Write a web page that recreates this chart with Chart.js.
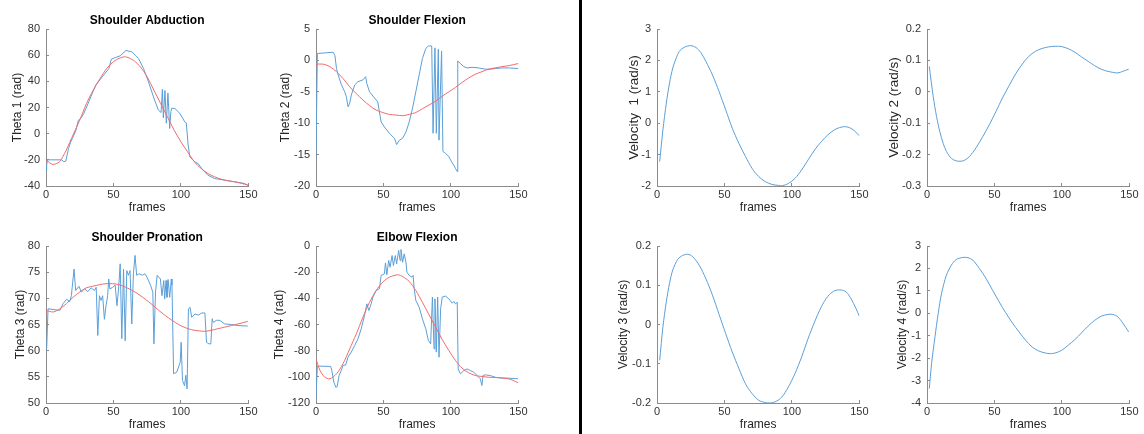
<!DOCTYPE html>
<html><head><meta charset="utf-8">
<script src="https://cdn.jsdelivr.net/npm/chart.js@4.4.1/dist/chart.umd.min.js"></script>
<style>
html,body{margin:0;padding:0;background:#fff;width:1144px;height:434px;overflow:hidden;position:relative;}
canvas{position:absolute;}
#divider{position:absolute;left:579px;top:0;width:3px;height:434px;background:#000;}
</style></head><body>
<div id="divider"></div>
<script>
// ---------- data (frame, value) ----------
const frameTicks = [0, 50, 100, 150];

const abductionTicks = [-40, -20, 0, 20, 40, 60, 80];
const abductionRaw = [[0,-28],[0.5,-24],[1,-20],[11.8,-20],[13,-21.5],[14.7,-21],[16.7,-11.3],[18.4,-6.2],[22,2],[24,10.3],[25.7,11.6],[28,15.4],[31.9,24.8],[36.8,37],[41.7,43.4],[46.6,49.8],[48.5,57],[51.5,58.2],[55,59.5],[59.3,63.6],[61.5,63],[63.7,62.5],[66.2,60],[68.6,57.5],[72.3,49.8],[76,39.6],[79.7,28],[83.3,18],[85.3,16.2],[86.3,34],[87,12],[88.2,33],[89.2,8],[90.4,31],[91.7,4],[92.6,17],[93.3,19.5],[95.6,19.2],[99.3,15.4],[102.9,9],[104,8.3],[105.4,-8.8],[106.6,-17.7],[110.3,-21.5],[112.7,-22.8],[116.4,-27.9],[120,-31.7],[125,-34.3],[132.4,-35.5],[139.7,-36.8],[147,-38],[149.5,-39.4],[150,-39]];
const abductionFit = [[0,-20],[5,-23.5],[10,-21.5],[12.5,-17.5],[15,-12.6],[20,-1.1],[25,10.3],[30,23],[35,33.2],[40,42],[45,49.8],[50,55],[55,58],[58,58.7],[60,58.5],[65,56],[70,51],[75,43.4],[80,33.2],[85,23],[90,12.9],[95,2.7],[100,-6.2],[105,-13.9],[110,-21.5],[115,-26.6],[120,-30.4],[125,-33],[130,-34.8],[135,-36],[140,-36.8],[145,-38],[150,-39.4]];

const flexionTicks = [-20, -15, -10, -5, 0, 5];
const flexionRaw = [[0,-15],[1,1.1],[12.7,1.3],[14,0.8],[15.2,-1.3],[16.4,-2.3],[18.9,-3.9],[21.3,-5],[22.5,-5.8],[23.8,-7.4],[25,-6.8],[26.2,-5.5],[28.7,-3.9],[31.1,-3.4],[34.8,-3.1],[36.8,-2.6],[37.7,-3.7],[39.7,-5],[43.4,-6],[45.8,-6.6],[47,-8.2],[48.3,-9.8],[50.7,-10.6],[54.4,-11.6],[58.1,-12.4],[59.8,-13.4],[61.8,-12.7],[64.2,-12.4],[66.7,-11.4],[69.1,-9.8],[71.6,-7.6],[74,-5],[76.5,-2.3],[78.9,0.3],[81.4,1.9],[83.3,2.3],[85.8,2.3],[86.8,-11.6],[88.2,2.0],[89.2,-11.6],[90.7,1.8],[91.2,-12.7],[93.1,1.5],[94.1,-14.5],[96,-14.8],[98.5,-15.3],[99.8,-15.9],[102.2,-16.7],[103.4,-17.2],[104.7,-17.7],[105.1,-0.1],[107.1,-0.5],[109.6,-1],[112,-1.2],[115.7,-1.1],[120.6,-1.2],[125.5,-1.4],[129.2,-1.4],[132.8,-1.3],[137.7,-1.2],[142.6,-1.2],[150,-1.3]];
const flexionFit = [[0,-0.6],[5.4,-0.6],[10.3,-1],[15.2,-1.8],[20.1,-2.9],[25,-4.2],[29.9,-5.3],[34.8,-6.3],[39.7,-7.2],[44.6,-7.9],[49.5,-8.3],[54.4,-8.6],[59.3,-8.7],[64.2,-8.8],[69.1,-8.6],[74,-8.3],[78.9,-7.7],[83.8,-7.1],[88.7,-6.5],[93.6,-5.7],[98.5,-5],[103.4,-4.3],[108.3,-3.5],[113.2,-2.8],[118.1,-2.2],[123,-1.8],[127.9,-1.4],[132.8,-1.2],[137.7,-1],[142.6,-0.85],[150,-0.5]];

const pronationTicks = [50, 55, 60, 65, 70, 75, 80];
const pronationRaw = [[0.5,60.4],[1.5,68],[10.3,67.7],[12.7,69],[15.2,69.8],[17.6,69.4],[18.8,70.5],[20.8,75.6],[22,71.5],[24.4,72.3],[26.2,71.2],[28.6,71.8],[31,71.3],[33.5,72],[35.9,71.5],[37.2,72.1],[38.4,62.9],[39.6,70.5],[40.8,69.6],[42,70.5],[43.3,66],[44.5,68.6],[45.7,70.5],[46.5,73.7],[47.4,71.8],[49.4,72.1],[51.3,72.5],[52.6,68.6],[53.8,71.8],[55,76.6],[56.2,62.3],[57.5,75.6],[58.7,61.9],[59.9,75.3],[61.1,74.4],[62.3,75.3],[63.6,65.1],[64.8,74.7],[66,78.2],[67.2,74.4],[69,74.7],[71.4,74.4],[73.3,74.7],[75,74],[77.5,72.5],[79.2,71.2],[80,61.3],[81.2,71.2],[82.4,74.4],[84.8,73.7],[86,70.5],[87.3,73.4],[88,69.9],[89,73.4],[89.7,70.2],[90.5,73.6],[91.7,70.2],[92.9,73.7],[93.4,72.5],[94.6,55.6],[97,55.9],[99.5,57.8],[100.2,61.6],[101.2,54.3],[102.7,53.3],[103.7,55.3],[104.6,52.7],[105.6,68],[106.8,68.3],[108,66.4],[110.5,67],[113,66.8],[115.4,67.2],[117.8,67.2],[119,61.6],[120.8,61.3],[122.2,61.3],[123.2,66.1],[124,65.4],[126.4,65.8],[128.8,65.8],[132.5,65.1],[137.4,65],[142.3,64.8],[149.6,64.7]];
const pronationFit = [[0,67.7],[5.4,67.4],[10.3,68],[15.2,69],[20,70.2],[25,71.2],[29.8,72],[34.7,72.3],[39.6,72.6],[44.5,72.8],[49.4,72.8],[54.3,72.6],[59.2,72.1],[64,71.5],[69,70.7],[73.8,69.8],[78.7,68.8],[83.6,67.7],[88.5,66.7],[93.4,65.8],[98.3,65],[103.2,64.4],[108,64],[113,63.8],[117.8,63.7],[122.7,63.9],[127.6,64.2],[132.5,64.5],[137.4,64.8],[142.3,65.1],[149.6,65.6]];

const elbowTicks = [-120, -100, -80, -60, -40, -20, 0];
const elbowRaw = [[0,-115.5],[1,-91.8],[9,-92],[10.8,-92],[11.5,-94],[13.2,-104],[14.7,-108],[15.7,-107.5],[17.1,-99],[18.8,-95],[20,-91.3],[22,-91],[23.7,-85],[26.2,-81],[28.7,-76],[31.1,-71],[33.6,-63],[36,-53],[37.7,-44.2],[39.2,-49.3],[40.9,-44.2],[42.2,-39],[43.4,-36.6],[44.6,-34],[47,-32.7],[48.3,-22.5],[50.7,-21.3],[51.5,-12.9],[52.5,-22],[53.9,-11],[54.9,-16.2],[56.4,-7.3],[57.4,-15],[58.8,-7.3],[59.8,-13.6],[61.3,-3.4],[62.3,-11],[63,-2.7],[64.2,-12.4],[65.4,-6],[66.7,-12.4],[67.4,-20],[69.1,-22.5],[71.1,-23.8],[72,-22.5],[72.8,-32.7],[74,-41.6],[76.5,-46.8],[78.9,-55.7],[81.4,-63.3],[83.3,-72.2],[85,-74.8],[86.3,-39],[87.5,-78.6],[88.2,-40.4],[89.2,-81.1],[90.2,-39],[91.2,-85],[92.4,-48],[93.6,-39],[96.1,-38.3],[98.5,-40.4],[101,-43.7],[102.2,-42.4],[103.4,-44.2],[104.7,-43],[105.4,-94],[107.1,-97.7],[109.6,-95.2],[112,-94],[114.5,-95.2],[116.9,-96.4],[119.4,-99],[121.8,-101.5],[123,-106.6],[123.8,-99],[125.5,-98.5],[129.2,-99],[132.8,-100.3],[137.7,-101],[142.6,-101],[150,-101.5]];
const elbowFit = [[0,-86.2],[2.9,-95],[6.6,-100.3],[10.3,-101.5],[15.2,-97.7],[20,-90],[25,-78.6],[29.9,-67.1],[34.8,-54.4],[39.7,-43],[44.6,-34],[49.5,-27.6],[54.4,-23.8],[59.3,-22.2],[61,-22],[64.2,-23.3],[69.1,-27.1],[74,-34],[78.9,-43],[83.8,-52.6],[88.7,-62],[93.6,-71.5],[98.5,-79.9],[103.4,-87.5],[108.3,-93.4],[113.2,-96.9],[118.1,-99],[123,-99.7],[127.9,-100.3],[132.8,-100.5],[137.7,-100.8],[142.6,-101.5],[146.3,-102.8],[150,-104.6]];

const vel1Ticks = [-2, -1, 0, 1, 2, 3];
const velocity1 = [[2,-1.22],[4.4,-0.21],[6.9,0.64],[9.3,1.28],[11.7,1.76],[14.2,2.07],[16.6,2.29],[20.3,2.42],[25,2.47],[28.9,2.41],[32.5,2.25],[36.2,1.97],[41.1,1.54],[46,1.01],[50.9,0.43],[55.8,-0.16],[60.7,-0.64],[65.6,-1.06],[70.5,-1.44],[75.4,-1.7],[80.3,-1.86],[85.2,-1.95],[90,-1.98],[93,-1.99],[97.4,-1.92],[102.3,-1.76],[107.2,-1.49],[112,-1.17],[116.9,-0.85],[121.8,-0.59],[126.7,-0.37],[131.6,-0.21],[135.3,-0.14],[139,-0.11],[142.7,-0.14],[146.3,-0.24],[150,-0.4]];

const vel2Ticks = [-0.3, -0.2, -0.1, 0, 0.1, 0.2];
const velocity2 = [[1.7,0.081],[4.6,-0.015],[7.1,-0.079],[9.5,-0.127],[12,-0.164],[14.4,-0.19],[18.1,-0.212],[21.7,-0.22],[25.4,-0.221],[27.9,-0.218],[31.5,-0.206],[36.4,-0.178],[41.3,-0.143],[46.2,-0.105],[51.1,-0.063],[55.9,-0.02],[60.8,0.019],[65.7,0.057],[70.6,0.088],[75.5,0.113],[80.4,0.129],[85.3,0.138],[90.2,0.143],[95,0.145],[99.9,0.144],[104.8,0.137],[109.7,0.126],[114.6,0.111],[119.5,0.097],[124.4,0.083],[129.2,0.072],[134.1,0.065],[137.8,0.062],[141.5,0.06],[145.1,0.065],[149.5,0.072]];

const vel3Ticks = [-0.2, -0.1, 0, 0.1, 0.2];
const velocity3 = [[2,-0.091],[4.4,-0.006],[6.9,0.058],[9.3,0.105],[11.7,0.139],[15.4,0.166],[19.1,0.176],[22.8,0.179],[26.4,0.173],[31.3,0.151],[36.2,0.117],[41.1,0.075],[46,0.026],[50.9,-0.023],[55.8,-0.07],[60.7,-0.112],[65.6,-0.151],[70.5,-0.176],[75.4,-0.193],[80.3,-0.199],[83.9,-0.2],[87.6,-0.197],[92.5,-0.185],[97.4,-0.159],[102.3,-0.125],[107.2,-0.083],[112,-0.036],[116.9,0.007],[121.8,0.045],[126.7,0.072],[131.6,0.086],[136.5,0.088],[140.2,0.083],[143.8,0.066],[147.5,0.041],[150,0.021]];

const vel4Ticks = [-4, -3, -2, -1, 0, 1, 2, 3];
const velocity4 = [[1.7,-3.36],[3.4,-2.24],[5.9,-1.05],[8.3,-0.01],[10.8,0.89],[14.4,1.7],[18.1,2.15],[21.7,2.4],[26.6,2.49],[30.3,2.48],[34,2.37],[38.8,2.0],[43.7,1.56],[48.6,1.03],[53.5,0.51],[58.4,0.02],[63.3,-0.43],[68.2,-0.83],[73.1,-1.2],[77.9,-1.5],[82.8,-1.68],[87.7,-1.77],[91.4,-1.8],[95,-1.77],[99.9,-1.65],[104.8,-1.42],[109.7,-1.17],[114.6,-0.87],[119.5,-0.57],[124.4,-0.31],[129.2,-0.13],[134.1,-0.05],[137.8,-0.05],[141.5,-0.16],[145.1,-0.43],[149.5,-0.83]];

// ---------- styling / layout ----------
const FONT = "'Liberation Sans', Arial, Helvetica, sans-serif";
const BLUE = '#5b9fd8';
const RED = '#f26b6b';
const AXIS = '#8c8c8c';

const panels = [
  {title:'Shoulder Abduction', ylabel:'Theta 1 (rad)', ticks:abductionTicks, series:[[abductionFit,RED,0.3],[abductionRaw,BLUE,0]], rect:[46,29,251,186], yOff:28.5, ySize:12},
  {title:'Shoulder Flexion', ylabel:'Theta 2 (rad)', ticks:flexionTicks, series:[[flexionFit,RED,0.3],[flexionRaw,BLUE,0]], rect:[316,29,521,186], yOff:30.5, ySize:12},
  {title:'Shoulder Pronation', ylabel:'Theta 3 (rad)', ticks:pronationTicks, series:[[pronationFit,RED,0.3],[pronationRaw,BLUE,0]], rect:[46,246,251,403], yOff:25.2, ySize:12},
  {title:'Elbow Flexion', ylabel:'Theta 4 (rad)', ticks:elbowTicks, series:[[elbowFit,RED,0.3],[elbowRaw,BLUE,0]], rect:[316,246,521,403], yOff:36.8, ySize:12},
  {title:null, ylabel:'Velocity  1 (rad/s)', ticks:vel1Ticks, series:[[velocity1,BLUE,0.3]], rect:[657,29,862,186], yOff:23, ySize:13.5},
  {title:null, ylabel:'Velocity 2 (rad/s)', ticks:vel2Ticks, series:[[velocity2,BLUE,0.3]], rect:[927,29,1132,186], yOff:33, ySize:13.5},
  {title:null, ylabel:'Velocity 3 (rad/s)', ticks:vel3Ticks, series:[[velocity3,BLUE,0.3]], rect:[657,246,862,403], yOff:33, ySize:12},
  {title:null, ylabel:'Velocity 4 (rad/s)', ticks:vel4Ticks, series:[[velocity4,BLUE,0.3]], rect:[927,246,1132,403], yOff:24, ySize:12},
];

const LEFT = 46, TOP = 29, BOTTOM = 30, RIGHT = 12;
const fmt = v => { const r = Math.round(v * 1000) / 1000; return r === 0 ? '0' : String(r); };

panels.forEach(p => {
  const [L, T, R, B] = p.rect;
  const cv = document.createElement('canvas');
  const w = (R - L) + LEFT + RIGHT, h = (B - T) + TOP + BOTTOM;
  cv.width = w; cv.height = h;
  cv.style.left = (L - LEFT) + 'px';
  cv.style.top = (T - TOP) + 'px';
  cv.style.width = w + 'px'; cv.style.height = h + 'px';
  document.body.appendChild(cv);
  const t = p.ticks;
  new Chart(cv, {
    type: 'line',
    data: {
      datasets: p.series.map(([pts, color, tension]) => ({
        data: pts.map(([x, y]) => ({x, y})),
        borderColor: color, borderWidth: 1, pointRadius: 0, tension: tension, fill: false
      }))
    },
    options: {
      responsive: false, animation: false, devicePixelRatio: 1,
      layout: { padding: { left: 0, right: RIGHT, top: p.title ? 0 : TOP, bottom: 0 } },
      plugins: {
        legend: { display: false }, tooltip: { enabled: false },
        title: p.title ? { display: true, fullSize: false, text: p.title, color: '#000',
          font: { family: FONT, size: 12, weight: 'bold' }, padding: { top: 13.8, bottom: 0.8 } } : { display: false }
      },
      scales: {
        x: {
          type: 'linear', min: frameTicks[0], max: frameTicks[frameTicks.length - 1],
          afterBuildTicks: s => { s.ticks = frameTicks.map(v => ({value: v})); },
          afterFit: s => { s.height = BOTTOM; },
          grid: { drawOnChartArea: false, drawTicks: true, tickLength: -3, color: AXIS },
          border: { color: AXIS, width: 1 },
          ticks: { padding: 5.5, color: '#333', font: { family: FONT, size: 11 }, maxRotation: 0, autoSkip: false, callback: fmt },
          title: { display: true, text: 'frames', color: '#262626', font: { family: FONT, size: 12 }, padding: { top: 0, bottom: 0.8 } }
        },
        y: {
          type: 'linear', min: t[0], max: t[t.length - 1],
          afterBuildTicks: s => { s.ticks = t.map(v => ({value: v})); },
          afterFit: s => { s.width = LEFT; },
          grid: { drawOnChartArea: false, drawTicks: true, tickLength: -3, color: AXIS },
          border: { color: AXIS, width: 1 },
          ticks: { padding: 9, color: '#333', font: { family: FONT, size: 11 }, autoSkip: false, callback: fmt },
          title: { display: true, text: p.ylabel, color: '#262626', font: { family: FONT, size: p.ySize },
            padding: { top: LEFT - p.yOff - p.ySize * 0.6, bottom: 0 } }
        }
      }
    }
  });
});
</script>
</body></html>
